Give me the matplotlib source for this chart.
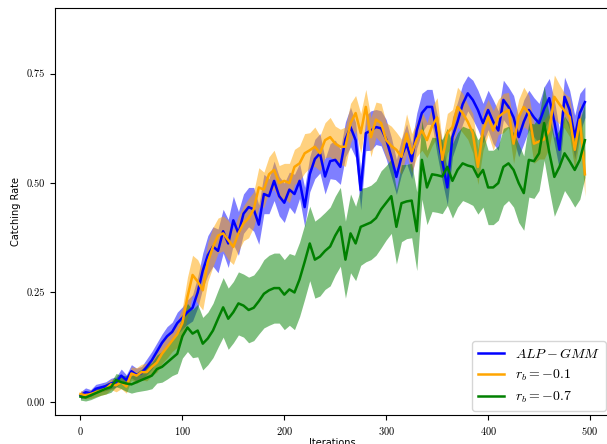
import numpy as np
import matplotlib
matplotlib.use("Agg")
import matplotlib.pyplot as plt
from matplotlib.ticker import FormatStrFormatter

plt.rcParams["font.family"] = "cmr10"
plt.rcParams["mathtext.fontset"] = "cm"
plt.rcParams["axes.formatter.use_mathtext"] = True

iters = list(range(0, 500, 5))

alp_mean = [0.015, 0.022, 0.020, 0.030, 0.033, 0.036, 0.042, 0.045, 0.060, 0.050,
            0.070, 0.062, 0.066, 0.080, 0.095, 0.115, 0.135, 0.150, 0.160, 0.180,
            0.192, 0.205, 0.215, 0.250, 0.300, 0.335, 0.355, 0.345, 0.390, 0.362,
            0.415, 0.385, 0.430, 0.445, 0.440, 0.405, 0.475, 0.470, 0.505, 0.470,
            0.455, 0.485, 0.475, 0.505, 0.445, 0.520, 0.555, 0.568, 0.515, 0.550,
            0.553, 0.537, 0.600, 0.628, 0.598, 0.484, 0.614, 0.620, 0.628, 0.625,
            0.600, 0.560, 0.514, 0.560, 0.590, 0.550, 0.620, 0.660, 0.674, 0.674,
            0.610, 0.550, 0.490, 0.605, 0.640, 0.680, 0.705, 0.690, 0.667, 0.637,
            0.667, 0.640, 0.620, 0.690, 0.674, 0.650, 0.605, 0.640, 0.667, 0.650,
            0.637, 0.670, 0.694, 0.640, 0.576, 0.697, 0.667, 0.605, 0.660, 0.685]
alp_std = [0.008, 0.010, 0.008, 0.010, 0.010, 0.010, 0.012, 0.012, 0.015, 0.012,
           0.015, 0.015, 0.015, 0.018, 0.020, 0.020, 0.020, 0.022, 0.022, 0.025,
           0.025, 0.028, 0.030, 0.035, 0.040, 0.045, 0.045, 0.050, 0.050, 0.055,
           0.055, 0.050, 0.045, 0.045, 0.050, 0.045, 0.045, 0.040, 0.045, 0.045,
           0.045, 0.040, 0.045, 0.040, 0.045, 0.040, 0.045, 0.045, 0.040, 0.040,
           0.045, 0.040, 0.040, 0.045, 0.040, 0.045, 0.040, 0.045, 0.040, 0.040,
           0.045, 0.045, 0.040, 0.040, 0.045, 0.040, 0.040, 0.045, 0.040, 0.040,
           0.045, 0.045, 0.040, 0.045, 0.045, 0.045, 0.040, 0.045, 0.045, 0.045,
           0.045, 0.050, 0.045, 0.045, 0.045, 0.050, 0.045, 0.050, 0.045, 0.045,
           0.045, 0.050, 0.045, 0.050, 0.045, 0.045, 0.045, 0.050, 0.045, 0.035]

rb01_mean = [0.018, 0.015, 0.018, 0.022, 0.025, 0.030, 0.040, 0.038, 0.045, 0.035,
             0.065, 0.060, 0.068, 0.068, 0.080, 0.090, 0.110, 0.125, 0.140, 0.155,
             0.180, 0.240, 0.290, 0.275, 0.255, 0.320, 0.354, 0.380, 0.385, 0.370,
             0.354, 0.385, 0.408, 0.420, 0.440, 0.490, 0.485, 0.520, 0.530, 0.500,
             0.505, 0.500, 0.537, 0.545, 0.568, 0.575, 0.583, 0.568, 0.598, 0.605,
             0.590, 0.583, 0.583, 0.637, 0.660, 0.614, 0.674, 0.605, 0.645, 0.637,
             0.598, 0.585, 0.576, 0.560, 0.613, 0.568, 0.600, 0.620, 0.598, 0.630,
             0.650, 0.553, 0.614, 0.628, 0.674, 0.660, 0.640, 0.614, 0.537, 0.620,
             0.651, 0.620, 0.651, 0.660, 0.667, 0.590, 0.651, 0.674, 0.660, 0.590,
             0.595, 0.600, 0.620, 0.697, 0.680, 0.665, 0.651, 0.576, 0.645, 0.520]
rb01_std = [0.008, 0.008, 0.010, 0.010, 0.010, 0.012, 0.012, 0.015, 0.015, 0.015,
            0.015, 0.018, 0.018, 0.020, 0.020, 0.022, 0.022, 0.025, 0.025, 0.030,
            0.035, 0.045, 0.045, 0.050, 0.045, 0.045, 0.045, 0.040, 0.040, 0.045,
            0.040, 0.040, 0.040, 0.045, 0.040, 0.045, 0.040, 0.040, 0.045, 0.040,
            0.040, 0.045, 0.040, 0.040, 0.045, 0.040, 0.045, 0.040, 0.040, 0.045,
            0.040, 0.040, 0.045, 0.045, 0.040, 0.045, 0.040, 0.045, 0.040, 0.045,
            0.040, 0.045, 0.040, 0.040, 0.045, 0.045, 0.040, 0.045, 0.040, 0.045,
            0.045, 0.040, 0.045, 0.040, 0.045, 0.045, 0.040, 0.045, 0.040, 0.045,
            0.040, 0.045, 0.040, 0.045, 0.040, 0.045, 0.040, 0.045, 0.040, 0.045,
            0.040, 0.045, 0.040, 0.050, 0.045, 0.040, 0.045, 0.045, 0.040, 0.050]

rb07_mean = [0.012, 0.010, 0.015, 0.020, 0.025, 0.030, 0.034, 0.050, 0.045, 0.042,
             0.040, 0.045, 0.050, 0.055, 0.060, 0.075, 0.080, 0.090, 0.100, 0.110,
             0.150, 0.170, 0.156, 0.163, 0.133, 0.145, 0.163, 0.190, 0.216, 0.190,
             0.205, 0.225, 0.220, 0.210, 0.215, 0.230, 0.247, 0.255, 0.260, 0.260,
             0.245, 0.257, 0.250, 0.280, 0.320, 0.362, 0.325, 0.332, 0.345, 0.355,
             0.380, 0.400, 0.325, 0.385, 0.362, 0.400, 0.405, 0.410, 0.420, 0.440,
             0.455, 0.470, 0.400, 0.454, 0.458, 0.460, 0.390, 0.553, 0.490, 0.520,
             0.518, 0.515, 0.537, 0.505, 0.530, 0.545, 0.540, 0.537, 0.514, 0.530,
             0.490, 0.490, 0.500, 0.537, 0.545, 0.530, 0.500, 0.477, 0.553, 0.550,
             0.568, 0.637, 0.570, 0.514, 0.537, 0.568, 0.550, 0.530, 0.553, 0.598]
rb07_std = [0.008, 0.008, 0.010, 0.010, 0.010, 0.012, 0.012, 0.015, 0.015, 0.018,
            0.020, 0.022, 0.025, 0.028, 0.030, 0.032, 0.035, 0.038, 0.040, 0.045,
            0.050, 0.055, 0.055, 0.060, 0.060, 0.060, 0.062, 0.065, 0.068, 0.070,
            0.070, 0.072, 0.072, 0.075, 0.075, 0.075, 0.078, 0.080, 0.080, 0.080,
            0.080, 0.082, 0.085, 0.085, 0.085, 0.085, 0.088, 0.090, 0.088, 0.090,
            0.090, 0.090, 0.088, 0.090, 0.085, 0.088, 0.085, 0.085, 0.085, 0.088,
            0.085, 0.085, 0.085, 0.088, 0.085, 0.085, 0.090, 0.090, 0.085, 0.085,
            0.085, 0.085, 0.088, 0.085, 0.085, 0.085, 0.085, 0.088, 0.085, 0.085,
            0.085, 0.085, 0.085, 0.088, 0.085, 0.085, 0.090, 0.085, 0.085, 0.085,
            0.085, 0.085, 0.085, 0.090, 0.085, 0.085, 0.085, 0.085, 0.090, 0.085]

series = [
    (alp_mean, alp_std, "blue", r"$ALP-GMM$"),
    (rb01_mean, rb01_std, "orange", r"$r_b=-0.1$"),
    (rb07_mean, rb07_std, "green", r"$r_b=-0.7$"),
]

fig = plt.figure(figsize=(6.07, 4.44), dpi=100)
ax = fig.add_axes([0.0906, 0.0653, 0.915, 0.9167])

x = np.array(iters)
for mean, std, color, label in series:
    m = np.array(mean)
    s = np.array(std)
    ax.fill_between(x, m - s, m + s, color=color, alpha=0.5, lw=0)
for mean, std, color, label in series:
    ax.plot(x, mean, color=color, lw=1.8, label=label)

ax.set_xlim(-25, 520)
ax.set_ylim(-0.03, 0.9)
ax.set_xticks([0, 100, 200, 300, 400, 500])
ax.set_yticks([0.0, 0.25, 0.5, 0.75])
ax.yaxis.set_major_formatter(FormatStrFormatter("%.2f"))
ax.tick_params(labelsize=7.5, length=3.5)
ax.set_xlabel("Iterations", family="DejaVu Sans", fontsize=7, labelpad=1)
ax.set_ylabel("Catching Rate", family="DejaVu Sans", fontsize=7)
ax.legend(loc="lower right", fontsize=10, handlelength=1.9,
          borderaxespad=0.3, framealpha=0.8)

fig.savefig("out.png", dpi=100)
